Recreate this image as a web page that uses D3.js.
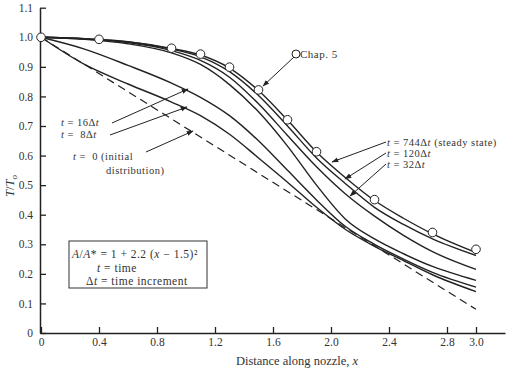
<!DOCTYPE html>
<html>
<head>
<meta charset="utf-8">
<script src="https://cdn.jsdelivr.net/npm/d3@7"></script>
<style>
  body { margin: 0; background: #fff; }
  text { font-family: "Liberation Serif", "DejaVu Serif", serif; fill: #333; }
</style>
</head>
<body>
<div id="chart"></div>
<script>
const width = 518;
const height = 372;

// common x grid for the computed curves
const gridX = [0, 0.3, 0.6, 0.9, 1.1, 1.3, 1.5, 1.7, 1.9, 2.1, 2.3, 2.5, 2.7, 3.0];

const t744 = [1.0, 0.995, 0.985, 0.962, 0.940, 0.896, 0.820, 0.720, 0.612, 0.525, 0.448, 0.388, 0.335, 0.272];
const t120 = [1.0, 0.995, 0.984, 0.960, 0.934, 0.884, 0.803, 0.700, 0.592, 0.505, 0.425, 0.367, 0.318, 0.262];
const t32  = [1.0, 0.994, 0.982, 0.955, 0.922, 0.865, 0.775, 0.668, 0.562, 0.470, 0.395, 0.330, 0.275, 0.215];
const tMid = [1.0, 0.993, 0.978, 0.947, 0.908, 0.840, 0.748, 0.632, 0.500, 0.385, 0.318, 0.268, 0.225, 0.178];
const t16  = [1.0, 0.960, 0.905, 0.845, 0.797, 0.735, 0.650, 0.550, 0.450, 0.360, 0.300, 0.250, 0.205, 0.155];
const t8   = [1.0, 0.908, 0.842, 0.781, 0.735, 0.672, 0.592, 0.510, 0.425, 0.350, 0.293, 0.245, 0.197, 0.140];

// initial distribution (dashed)
const initX = [0, 3.0];
const initT = [1.0, 0.08];

// Chap. 5 exact solution (circles)
const chapX = [0, 0.4, 0.9, 1.1, 1.3, 1.5, 1.7, 1.9, 2.3, 2.7, 3.0];
const chapT = [1.0, 0.993, 0.963, 0.943, 0.899, 0.822, 0.721, 0.613, 0.451, 0.340, 0.283];

const xTicks = [0, 0.4, 0.8, 1.2, 1.6, 2.0, 2.4, 2.8, 3.0];
const yTicks = [0, 0.1, 0.2, 0.3, 0.4, 0.5, 0.6, 0.7, 0.8, 0.9, 1.0, 1.1];

const svg = d3.select("#chart").append("svg")
  .attr("width", width)
  .attr("height", height);

const x = d3.scaleLinear().domain([0, 3.2]).range([41, 505]);
const y = d3.scaleLinear().domain([0, 1.1]).range([333, 7.7]);

svg.append("defs").append("marker")
  .attr("id", "arr")
  .attr("viewBox", "0 0 10 10")
  .attr("refX", 9).attr("refY", 5)
  .attr("markerWidth", 7).attr("markerHeight", 7)
  .attr("markerUnits", "userSpaceOnUse")
  .attr("orient", "auto")
  .append("path").attr("d", "M0,1.5 L10,5 L0,8.5 Z").attr("fill", "#222");

// axes
const xAxis = svg.append("g")
  .attr("transform", `translate(0,${y(0)})`)
  .call(d3.axisBottom(x).tickValues(xTicks).tickSizeInner(-6).tickSizeOuter(0)
    .tickFormat(d => d === 0 ? "0" : d3.format(".1f")(d)));
xAxis.select(".domain").attr("stroke", "#222").attr("stroke-width", 1.5);
xAxis.selectAll(".tick line").attr("stroke", "#222").attr("stroke-width", 1.3);
xAxis.selectAll(".tick text").attr("y", 5).attr("dy", "0.71em")
  .style("font-size", "11.5px").style("font-family", "Liberation Serif").attr("fill", "#444");

const yAxis = svg.append("g")
  .attr("transform", `translate(${x(0) - 1},0)`)
  .call(d3.axisLeft(y).tickValues(yTicks).tickSizeInner(-6).tickSizeOuter(0)
    .tickFormat(d => d === 0 ? "0" : d3.format(".1f")(d)));
yAxis.select(".domain").attr("stroke", "#222").attr("stroke-width", 1.5);
yAxis.selectAll(".tick line").attr("stroke", "#222").attr("stroke-width", 1.3);
yAxis.selectAll(".tick text").attr("x", -7)
  .style("font-size", "11.5px").style("font-family", "Liberation Serif").attr("fill", "#444");

// axis titles
svg.append("text")
  .attr("x", 297).attr("y", 365)
  .attr("text-anchor", "middle")
  .style("font-size", "12.5px")
  .html('Distance along nozzle, <tspan font-style="italic">x</tspan>');

svg.append("text")
  .attr("transform", "translate(14,186) rotate(-90)")
  .attr("text-anchor", "middle")
  .style("font-size", "12.5px")
  .html('<tspan font-style="italic">T</tspan>/<tspan font-style="italic">T</tspan><tspan dy="3" font-size="9px" font-style="italic">o</tspan>');

// curves
const line = d3.line()
  .x(d => x(d[0]))
  .y(d => y(d[1]))
  .curve(d3.curveMonotoneX);

const curves = [t744, t120, t32, tMid, t16, t8];
svg.append("g").selectAll("path.curve")
  .data(curves)
  .join("path")
  .attr("class", "curve")
  .attr("fill", "none")
  .attr("stroke", "#222")
  .attr("stroke-width", 1.4)
  .attr("d", vals => line(vals.map((v, i) => [gridX[i], v])));

svg.append("path")
  .attr("fill", "none")
  .attr("stroke", "#222")
  .attr("stroke-width", 1.2)
  .attr("stroke-dasharray", "8,5")
  .attr("d", line(initT.map((v, i) => [initX[i], v])));

// Chap. 5 circles
svg.append("g").selectAll("circle")
  .data(chapX.map((v, i) => [v, chapT[i]]))
  .join("circle")
  .attr("cx", d => x(d[0]))
  .attr("cy", d => y(d[1]))
  .attr("r", 4.3)
  .attr("fill", "#fff")
  .attr("stroke", "#222")
  .attr("stroke-width", 1);

// annotations
function arrow(x1, y1, x2, y2) {
  svg.append("line")
    .attr("x1", x1).attr("y1", y1).attr("x2", x2).attr("y2", y2)
    .attr("stroke", "#222").attr("stroke-width", 1)
    .attr("marker-end", "url(#arr)");
}

function label(px, py, html, size) {
  svg.append("text").attr("x", px).attr("y", py)
    .style("font-size", (size || 10.5) + "px")
    .style("letter-spacing", "0.5px")
    .html(html);
}

label(61, 126, '<tspan font-style="italic">t</tspan> = 16Δ<tspan font-style="italic">t</tspan>');
label(61, 138, '<tspan font-style="italic">t</tspan> =&#160;&#160;8Δ<tspan font-style="italic">t</tspan>');
label(73, 160, '<tspan font-style="italic">t</tspan> =&#160;&#160;0 (initial');
label(106, 174, 'distribution)');
arrow(112, 123, 188, 89);
arrow(110, 135, 187, 107);
arrow(146, 152, 193, 131);

label(387, 146, '<tspan font-style="italic">t</tspan> = 744Δ<tspan font-style="italic">t</tspan> (steady state)');
label(387, 157, '<tspan font-style="italic">t</tspan> = 120Δ<tspan font-style="italic">t</tspan>');
label(387, 168, '<tspan font-style="italic">t</tspan> = 32Δ<tspan font-style="italic">t</tspan>');
arrow(386, 142, 332, 162);
arrow(386, 153, 345, 179);
arrow(386, 164, 350, 196);

svg.append("circle").attr("cx", 296).attr("cy", 54).attr("r", 4)
  .attr("fill", "#fff").attr("stroke", "#222").attr("stroke-width", 1);
label(300, 58, 'Chap. 5', 11);
arrow(294, 57, 263, 86);

// parameter box
svg.append("rect")
  .attr("x", 69).attr("y", 241).attr("width", 138).attr("height", 47)
  .attr("fill", "#fff").attr("stroke", "#333").attr("stroke-width", 1);
label(72, 258, '<tspan font-style="italic">A</tspan>/<tspan font-style="italic">A</tspan>* = 1 + 2.2 (<tspan font-style="italic">x</tspan> − 1.5)²', 11.5);
label(97, 272, '<tspan font-style="italic">t</tspan> = time', 11.5);
label(86, 285, 'Δ<tspan font-style="italic">t</tspan> = time increment', 11.5);
</script>
</body>
</html>
